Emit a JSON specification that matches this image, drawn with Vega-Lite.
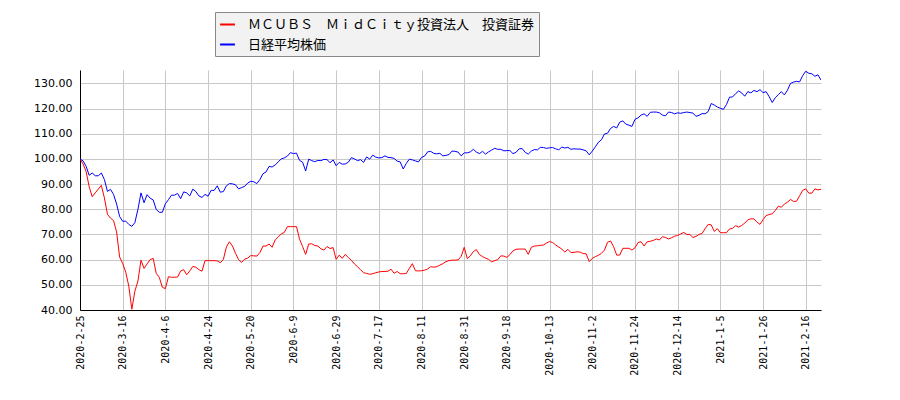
{
"$schema": "https://vega.github.io/schema/vega-lite/v6.json",
"autosize": {"type": "none"},
"width": 741,
"height": 240,
"padding": {"left": 80, "top": 70, "right": 79, "bottom": 90},
"background": "white",
"config": {"view": {"stroke": null}},
"data": {"values": [
{"d":"2020-2-25","m":100,"n":100},
{"d":"2020-2-26","m":98,"n":99.2},
{"d":"2020-2-27","m":95,"n":97.1},
{"d":"2020-2-28","m":89,"n":93.5},
{"d":"2020-3-2","m":85,"n":94.4},
{"d":"2020-3-3","m":86.5,"n":93.3},
{"d":"2020-3-4","m":88,"n":93.3},
{"d":"2020-3-5","m":89.5,"n":94.4},
{"d":"2020-3-6","m":84.5,"n":91.8},
{"d":"2020-3-9","m":78,"n":87.1},
{"d":"2020-3-10","m":76.5,"n":87.9},
{"d":"2020-3-11","m":75.5,"n":85.9},
{"d":"2020-3-12","m":71,"n":82.1},
{"d":"2020-3-13","m":61,"n":77.1},
{"d":"2020-3-16","m":58.5,"n":75.2},
{"d":"2020-3-17","m":55,"n":75.3},
{"d":"2020-3-18","m":49.5,"n":74.0},
{"d":"2020-3-19","m":40.3,"n":73.2},
{"d":"2020-3-23","m":47.5,"n":74.7},
{"d":"2020-3-24","m":51.5,"n":80.0},
{"d":"2020-3-25","m":59.8,"n":86.5},
{"d":"2020-3-26","m":56.5,"n":82.6},
{"d":"2020-3-27","m":58.3,"n":85.8},
{"d":"2020-3-30","m":60,"n":84.4},
{"d":"2020-3-31","m":60.5,"n":83.7},
{"d":"2020-4-1","m":54.5,"n":79.9},
{"d":"2020-4-2","m":53,"n":78.8},
{"d":"2020-4-3","m":49,"n":78.8},
{"d":"2020-4-6","m":48.5,"n":82.2},
{"d":"2020-4-7","m":53.2,"n":83.8},
{"d":"2020-4-8","m":53,"n":85.6},
{"d":"2020-4-9","m":53,"n":85.6},
{"d":"2020-4-10","m":53.1,"n":86.3},
{"d":"2020-4-13","m":55.5,"n":84.2},
{"d":"2020-4-14","m":56,"n":86.9},
{"d":"2020-4-15","m":54,"n":86.5},
{"d":"2020-4-16","m":55.5,"n":85.3},
{"d":"2020-4-17","m":57.3,"n":88.0},
{"d":"2020-4-20","m":57,"n":87.0},
{"d":"2020-4-21","m":56,"n":85.3},
{"d":"2020-4-22","m":55.4,"n":84.7},
{"d":"2020-4-23","m":59.6,"n":85.9},
{"d":"2020-4-24","m":59.6,"n":85.2},
{"d":"2020-4-27","m":59.6,"n":87.5},
{"d":"2020-4-28","m":59.6,"n":87.5},
{"d":"2020-4-30","m":59.5,"n":89.3},
{"d":"2020-5-1","m":58.8,"n":86.8},
{"d":"2020-5-7","m":60,"n":87.0},
{"d":"2020-5-8","m":65,"n":89.3},
{"d":"2020-5-11","m":67.1,"n":90.2},
{"d":"2020-5-12","m":65.4,"n":90.1},
{"d":"2020-5-13","m":62.5,"n":89.7},
{"d":"2020-5-14","m":60,"n":88.1},
{"d":"2020-5-15","m":58.9,"n":88.6},
{"d":"2020-5-18","m":60.2,"n":89.1},
{"d":"2020-5-19","m":60.6,"n":90.4},
{"d":"2020-5-20","m":61.6,"n":91.1},
{"d":"2020-5-21","m":61.5,"n":90.9},
{"d":"2020-5-22","m":61.4,"n":90.2},
{"d":"2020-5-25","m":62.8,"n":91.8},
{"d":"2020-5-26","m":65.4,"n":94.1},
{"d":"2020-5-27","m":65.4,"n":94.8},
{"d":"2020-5-28","m":66.2,"n":97.0},
{"d":"2020-5-29","m":64.9,"n":96.8},
{"d":"2020-6-1","m":67.8,"n":97.6},
{"d":"2020-6-2","m":69,"n":98.8},
{"d":"2020-6-3","m":70.2,"n":100.0},
{"d":"2020-6-4","m":70.8,"n":100.4},
{"d":"2020-6-5","m":73.1,"n":101.1},
{"d":"2020-6-8","m":73.1,"n":102.5},
{"d":"2020-6-9","m":73.1,"n":102.1},
{"d":"2020-6-10","m":73.1,"n":102.3},
{"d":"2020-6-11","m":68.1,"n":99.4},
{"d":"2020-6-12","m":65.2,"n":98.7},
{"d":"2020-6-15","m":62.1,"n":95.2},
{"d":"2020-6-16","m":66.2,"n":99.9},
{"d":"2020-6-17","m":66.3,"n":99.3},
{"d":"2020-6-18","m":65.6,"n":98.9},
{"d":"2020-6-19","m":65.4,"n":99.4},
{"d":"2020-6-22","m":64.3,"n":99.3},
{"d":"2020-6-23","m":63.8,"n":99.8},
{"d":"2020-6-24","m":65.2,"n":99.7},
{"d":"2020-6-25","m":64.4,"n":98.5},
{"d":"2020-6-26","m":64.8,"n":99.6},
{"d":"2020-6-29","m":60.1,"n":97.3},
{"d":"2020-6-30","m":61.8,"n":98.6},
{"d":"2020-7-1","m":60.5,"n":97.9},
{"d":"2020-7-2","m":62.1,"n":98.0},
{"d":"2020-7-3","m":60.8,"n":98.7},
{"d":"2020-7-6","m":59.7,"n":100.5},
{"d":"2020-7-7","m":58.3,"n":100.0},
{"d":"2020-7-8","m":57.2,"n":99.3},
{"d":"2020-7-9","m":56,"n":99.7},
{"d":"2020-7-10","m":54.8,"n":98.6},
{"d":"2020-7-13","m":54.5,"n":100.8},
{"d":"2020-7-14","m":54.2,"n":99.9},
{"d":"2020-7-15","m":54.4,"n":101.5},
{"d":"2020-7-16","m":54.8,"n":100.7},
{"d":"2020-7-17","m":55.1,"n":100.4},
{"d":"2020-7-20","m":55.3,"n":100.5},
{"d":"2020-7-21","m":55.3,"n":101.2},
{"d":"2020-7-22","m":55.4,"n":100.6},
{"d":"2020-7-27","m":56.2,"n":100.5},
{"d":"2020-7-28","m":54.6,"n":100.2},
{"d":"2020-7-29","m":55.3,"n":99.1},
{"d":"2020-7-30","m":54.4,"n":98.8},
{"d":"2020-7-31","m":54.4,"n":96.0},
{"d":"2020-8-3","m":54.5,"n":98.2},
{"d":"2020-8-4","m":56.5,"n":99.9},
{"d":"2020-8-5","m":58.4,"n":99.6},
{"d":"2020-8-6","m":55.6,"n":99.2},
{"d":"2020-8-7","m":55.5,"n":98.8},
{"d":"2020-8-11","m":55.6,"n":100.6},
{"d":"2020-8-12","m":55.8,"n":101.1},
{"d":"2020-8-13","m":56.3,"n":102.8},
{"d":"2020-8-14","m":57.2,"n":103.0},
{"d":"2020-8-17","m":57,"n":102.2},
{"d":"2020-8-18","m":57.2,"n":102.0},
{"d":"2020-8-19","m":57.8,"n":102.2},
{"d":"2020-8-20","m":58.4,"n":101.2},
{"d":"2020-8-21","m":59.2,"n":101.4},
{"d":"2020-8-24","m":59.6,"n":101.7},
{"d":"2020-8-25","m":59.8,"n":103.1},
{"d":"2020-8-26","m":59.8,"n":103.0},
{"d":"2020-8-27","m":59.9,"n":102.7},
{"d":"2020-8-28","m":61.3,"n":101.2},
{"d":"2020-8-31","m":64.9,"n":102.4},
{"d":"2020-9-1","m":60.4,"n":102.4},
{"d":"2020-9-2","m":61.5,"n":102.8},
{"d":"2020-9-3","m":63.2,"n":103.8},
{"d":"2020-9-4","m":64,"n":102.7},
{"d":"2020-9-7","m":62,"n":102.1},
{"d":"2020-9-8","m":61.2,"n":103.0},
{"d":"2020-9-9","m":60.6,"n":101.9},
{"d":"2020-9-10","m":60.1,"n":102.8},
{"d":"2020-9-11","m":59.1,"n":103.5},
{"d":"2020-9-14","m":59.6,"n":104.2},
{"d":"2020-9-15","m":60,"n":103.8},
{"d":"2020-9-16","m":61.5,"n":103.8},
{"d":"2020-9-17","m":61.4,"n":103.2},
{"d":"2020-9-18","m":60.9,"n":103.3},
{"d":"2020-9-23","m":62,"n":103.3},
{"d":"2020-9-24","m":63.5,"n":102.1},
{"d":"2020-9-25","m":64.1,"n":102.6},
{"d":"2020-9-28","m":64.2,"n":104.0},
{"d":"2020-9-29","m":64.2,"n":104.1},
{"d":"2020-9-30","m":64.2,"n":102.6},
{"d":"2020-10-2","m":62.1,"n":101.9},
{"d":"2020-10-5","m":64.9,"n":103.1},
{"d":"2020-10-6","m":65.4,"n":103.7},
{"d":"2020-10-7","m":65.5,"n":103.6},
{"d":"2020-10-8","m":65.7,"n":104.6},
{"d":"2020-10-9","m":65.8,"n":104.5},
{"d":"2020-10-12","m":66.6,"n":104.2},
{"d":"2020-10-13","m":67.2,"n":104.4},
{"d":"2020-10-14","m":66.8,"n":104.5},
{"d":"2020-10-15","m":65.8,"n":104.0},
{"d":"2020-10-16","m":65,"n":103.6},
{"d":"2020-10-19","m":64.2,"n":104.7},
{"d":"2020-10-20","m":63,"n":104.3},
{"d":"2020-10-21","m":64.1,"n":104.6},
{"d":"2020-10-22","m":62.8,"n":103.8},
{"d":"2020-10-23","m":62.9,"n":104.0},
{"d":"2020-10-26","m":63.1,"n":103.9},
{"d":"2020-10-27","m":63,"n":103.9},
{"d":"2020-10-28","m":62.4,"n":103.6},
{"d":"2020-10-29","m":62.3,"n":103.2},
{"d":"2020-10-30","m":59.2,"n":101.6},
{"d":"2020-11-2","m":60.5,"n":103.1},
{"d":"2020-11-4","m":61.2,"n":104.8},
{"d":"2020-11-5","m":61.7,"n":106.6},
{"d":"2020-11-6","m":62.5,"n":107.6},
{"d":"2020-11-9","m":63.8,"n":109.9},
{"d":"2020-11-10","m":66.9,"n":110.2},
{"d":"2020-11-11","m":67.4,"n":112.1},
{"d":"2020-11-12","m":65.1,"n":112.9},
{"d":"2020-11-13","m":61.8,"n":112.3},
{"d":"2020-11-16","m":61.8,"n":114.6},
{"d":"2020-11-17","m":64.5,"n":115.1},
{"d":"2020-11-18","m":64.5,"n":113.8},
{"d":"2020-11-19","m":64.5,"n":113.4},
{"d":"2020-11-20","m":63.8,"n":112.9},
{"d":"2020-11-24","m":64.7,"n":115.7},
{"d":"2020-11-25","m":66.8,"n":116.3},
{"d":"2020-11-26","m":67.1,"n":117.4},
{"d":"2020-11-27","m":65.4,"n":117.9},
{"d":"2020-11-30","m":67.1,"n":116.9},
{"d":"2020-12-1","m":67.3,"n":118.5},
{"d":"2020-12-2","m":67.6,"n":118.6},
{"d":"2020-12-3","m":68.2,"n":118.6},
{"d":"2020-12-4","m":67.8,"n":118.3},
{"d":"2020-12-7","m":69.1,"n":117.4},
{"d":"2020-12-8","m":68.8,"n":117.1},
{"d":"2020-12-9","m":68.2,"n":118.6},
{"d":"2020-12-10","m":68.7,"n":118.4},
{"d":"2020-12-11","m":69.3,"n":117.9},
{"d":"2020-12-14","m":69.6,"n":118.3},
{"d":"2020-12-15","m":70.2,"n":118.1},
{"d":"2020-12-16","m":70.8,"n":118.4},
{"d":"2020-12-17","m":70,"n":118.6},
{"d":"2020-12-18","m":70,"n":118.4},
{"d":"2020-12-21","m":68.8,"n":118.2},
{"d":"2020-12-22","m":69.2,"n":116.9},
{"d":"2020-12-23","m":70,"n":117.3},
{"d":"2020-12-24","m":70.4,"n":118.0},
{"d":"2020-12-25","m":72.3,"n":117.9},
{"d":"2020-12-28","m":74,"n":118.8},
{"d":"2020-12-29","m":73.8,"n":122.0},
{"d":"2020-12-30","m":71.2,"n":121.4},
{"d":"2021-1-4","m":72.3,"n":120.6},
{"d":"2021-1-5","m":70.7,"n":120.1},
{"d":"2021-1-6","m":70.7,"n":119.7},
{"d":"2021-1-7","m":70.7,"n":121.6},
{"d":"2021-1-8","m":72.2,"n":124.5},
{"d":"2021-1-12","m":72.4,"n":124.6},
{"d":"2021-1-13","m":73.5,"n":125.9},
{"d":"2021-1-14","m":72.9,"n":127.0},
{"d":"2021-1-15","m":73.6,"n":126.2},
{"d":"2021-1-18","m":74.5,"n":124.9},
{"d":"2021-1-19","m":75.8,"n":126.7},
{"d":"2021-1-20","m":76.2,"n":126.2},
{"d":"2021-1-21","m":76.2,"n":127.2},
{"d":"2021-1-22","m":74.9,"n":126.7},
{"d":"2021-1-25","m":74,"n":127.5},
{"d":"2021-1-26","m":75.9,"n":126.3},
{"d":"2021-1-27","m":77.5,"n":126.7},
{"d":"2021-1-28","m":77.9,"n":124.7},
{"d":"2021-1-29","m":78.2,"n":122.4},
{"d":"2021-2-1","m":79.5,"n":124.3},
{"d":"2021-2-2","m":81.2,"n":125.5},
{"d":"2021-2-3","m":80.8,"n":126.7},
{"d":"2021-2-4","m":82.1,"n":125.4},
{"d":"2021-2-5","m":82.8,"n":127.3},
{"d":"2021-2-8","m":83.9,"n":130.0},
{"d":"2021-2-9","m":83.1,"n":130.5},
{"d":"2021-2-10","m":83.2,"n":130.8},
{"d":"2021-2-12","m":85.4,"n":130.6},
{"d":"2021-2-15","m":87.5,"n":133.1},
{"d":"2021-2-16","m":88.1,"n":134.8},
{"d":"2021-2-17","m":86.4,"n":134.0},
{"d":"2021-2-18","m":86.4,"n":133.8},
{"d":"2021-2-19","m":88.1,"n":132.8},
{"d":"2021-2-22","m":87.7,"n":133.4},
{"d":"2021-2-24","m":87.9,"n":131.3}
]},
"transform": [{"fold": ["m", "n"], "as": ["s", "v"]}],
"mark": {"type": "line", "strokeWidth": 1, "clip": true},
"encoding": {
  "x": {
    "field": "d", "type": "ordinal", "sort": null,
    "scale": {"type": "point", "padding": 0},
    "axis": {
      "title": null,
      "values": ["2020-2-25","2020-3-16","2020-4-6","2020-4-24","2020-5-20","2020-6-9","2020-6-29","2020-7-17","2020-8-11","2020-8-31","2020-9-18","2020-10-13","2020-11-2","2020-11-24","2020-12-14","2021-1-5","2021-1-26","2021-2-16"],
      "labelAngle": 270,
      "labelFont": "DejaVu Sans Mono",
      "labelFontSize": 10,
      "labelColor": "#000000",
      "labelPadding": 5,
      "ticks": false,
      "domainColor": "#000000",
      "domainWidth": 1,
      "grid": true,
      "gridColor": "#c8c8c8",
      "gridWidth": 1
    }
  },
  "y": {
    "field": "v", "type": "quantitative",
    "scale": {"domain": [40, 135.3], "nice": false, "zero": false},
    "axis": {
      "title": null,
      "values": [40, 50, 60, 70, 80, 90, 100, 110, 120, 130],
      "format": ".2f",
      "labelFont": "DejaVu Sans",
      "labelFontSize": 11,
      "labelColor": "#000000",
      "labelPadding": 8,
      "ticks": false,
      "domainColor": "#000000",
      "domainWidth": 1,
      "grid": true,
      "gridColor": "#c8c8c8",
      "gridWidth": 1
    }
  },
  "color": {
    "field": "s", "type": "nominal",
    "scale": {"domain": ["m", "n"], "range": ["#ff0000", "#0000ff"]},
    "legend": {
      "title": null,
      "orient": "none",
      "legendX": 135,
      "legendY": -58,
      "labelExpr": "datum.label == 'm' ? 'ＭＣＵＢＳ　ＭｉｄＣｉｔｙ投資法人　投資証券' : '日経平均株価'",
      "labelFont": "Noto Sans CJK JP",
      "labelFontSize": 13,
      "labelColor": "#000000",
      "labelLimit": 500,
      "labelOffset": 12,
      "symbolType": "stroke",
      "symbolStrokeWidth": 2,
      "symbolSize": 220,
      "rowPadding": 4,
      "padding": 4,
      "fillColor": "#f2f2f2",
      "strokeColor": "#888888"
    }
  }
}
}
